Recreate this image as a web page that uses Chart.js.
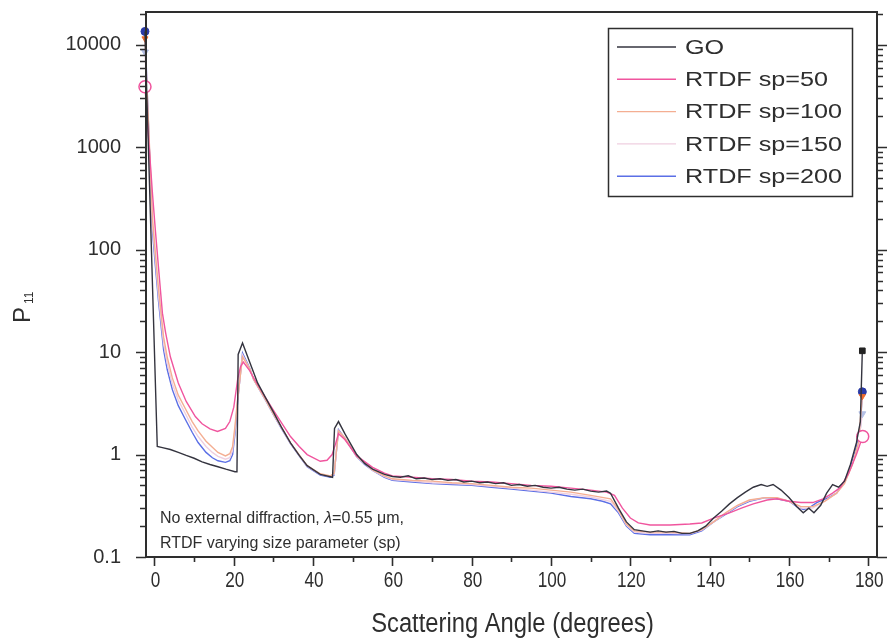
<!DOCTYPE html>
<html>
<head>
<meta charset="utf-8">
<script src="https://cdn.jsdelivr.net/npm/chart.js@4.4.1/dist/chart.umd.min.js"></script>
<style>
  html, body { margin: 0; padding: 0; background: #fff; }
  #wrap { width: 889px; height: 642px; position: relative; }
</style>
</head>
<body>
<div id="wrap"><canvas id="c"></canvas></div>
<script>
// ---------------- data ----------------
const xTicks = [0, 20, 40, 60, 80, 100, 120, 140, 160, 180];
const yTicks = [0.1, 1, 10, 100, 1000, 10000];

const seriesLabels = ["GO", "RTDF sp=50", "RTDF sp=100", "RTDF sp=150", "RTDF sp=200"];

const goAng = [-2.4, 0.7, 2, 4, 6, 8, 10, 12, 14, 16, 18, 20.3, 20.8, 21.1, 22.2, 24, 26, 28, 30, 32, 34.3, 36.5, 38.5, 41.8, 44.9, 45.4, 46.4, 48, 51, 53, 55, 58, 60, 62, 64, 66, 68, 70, 72, 74, 76, 78, 80, 82, 84, 86, 88, 90, 92, 94, 96, 98, 100, 102, 104, 106, 108, 110, 112, 114, 115, 117, 119, 121, 123, 125, 127, 129, 131, 133, 135, 137, 139, 141, 143, 145, 147, 149, 151, 153, 154.5, 156, 158, 160, 162, 163.6, 165, 166.3, 168, 169.5, 171, 172.5, 174, 175.5, 177, 178, 178.5];
const goVal = [13500, 1.2, 1.17, 1.12, 1.05, 0.98, 0.92, 0.85, 0.8, 0.76, 0.72, 0.68, 0.68, 9.5, 12.3, 8, 5, 3.6, 2.6, 1.85, 1.3, 0.98, 0.78, 0.64, 0.6, 1.8, 2.1, 1.6, 1.0, 0.82, 0.72, 0.64, 0.61, 0.6, 0.62, 0.58, 0.59, 0.57, 0.58, 0.56, 0.57, 0.54, 0.55, 0.53, 0.54, 0.52, 0.53, 0.5, 0.51, 0.49, 0.5, 0.48, 0.47, 0.48, 0.46, 0.45, 0.46, 0.44, 0.43, 0.44, 0.42, 0.3, 0.22, 0.185, 0.18, 0.175, 0.18, 0.175, 0.178, 0.17, 0.17, 0.18, 0.2, 0.24, 0.28, 0.33, 0.38, 0.43, 0.48, 0.51, 0.49, 0.51, 0.45, 0.38, 0.31, 0.27, 0.3, 0.27, 0.32, 0.42, 0.51, 0.48, 0.55, 0.8, 1.3, 2.1, 10.3];

const sp50Ang = [-2.4, -0.5, 0.25, 1, 2, 2.8, 4, 6, 8, 10.3, 12, 14, 15.9, 17.9, 19, 20, 21, 21.7, 22.4, 24, 25, 28, 30, 32, 34.3, 36.5, 38.5, 41.8, 43.5, 44.8, 45.6, 46.4, 48, 51, 55, 58, 60, 65, 70, 75, 80, 85, 90, 95, 100, 105, 110, 114, 116, 118, 120, 122, 125, 130, 135, 138, 141, 145, 148, 151, 154.5, 157, 160, 163, 166, 168.6, 171, 173, 175, 177, 178.6];
const sp50Val = [3900, 350, 150, 68, 24, 15.5, 9, 5, 3.3, 2.35, 2.0, 1.78, 1.68, 1.8, 2.1, 2.9, 5.5, 7.2, 8.0, 6.6, 5.6, 3.6, 2.7, 2.05, 1.5, 1.2, 1.0, 0.86, 0.88, 1.0, 1.25, 1.6, 1.4, 0.97, 0.75, 0.66, 0.62, 0.6, 0.58, 0.57, 0.55, 0.54, 0.52, 0.5, 0.49, 0.47, 0.45, 0.43, 0.4, 0.3, 0.24, 0.215, 0.205, 0.205, 0.21, 0.215, 0.24, 0.27, 0.3, 0.33, 0.36, 0.37, 0.35, 0.34, 0.34, 0.37, 0.42, 0.48, 0.65, 1.0, 1.5];

const sp100Ang = [-2.4, -0.5, 0.25, 1, 2.3, 3.2, 4.5, 6, 7.8, 9.5, 11, 13, 14.6, 16, 17.9, 19, 19.7, 20.3, 21, 22.2, 24, 25, 28, 30, 32, 34.3, 36.5, 38.5, 41.8, 44.4, 45.3, 46.4, 48, 51, 55, 58, 60, 65, 70, 75, 80, 85, 90, 95, 100, 105, 110, 115, 117, 119, 121, 125, 130, 135, 138, 141, 144, 147, 150, 154, 157, 160, 163, 166, 169, 172, 174, 176, 177.5, 178.5];
const sp100Val = [11500, 200, 90, 42, 14, 9, 5.6, 3.8, 2.8, 2.1, 1.7, 1.35, 1.18, 1.05, 0.97, 1.02, 1.2, 1.9, 3.6, 9.0, 6.9, 5.4, 3.45, 2.5, 1.85, 1.3, 0.99, 0.78, 0.65, 0.62, 0.66, 1.7, 1.45, 0.96, 0.71, 0.62, 0.58, 0.56, 0.55, 0.53, 0.52, 0.5, 0.48, 0.47, 0.45, 0.43, 0.4, 0.37, 0.29, 0.21, 0.18, 0.175, 0.175, 0.17, 0.185, 0.22, 0.27, 0.32, 0.36, 0.38, 0.38, 0.35, 0.31, 0.31, 0.35, 0.42, 0.52, 0.8, 1.3, 3.7];

const sp150Ang = [-2.4, -0.5, 0.25, 1, 2.3, 3.2, 4.5, 6, 7.8, 9.5, 11, 13, 14.6, 16, 17.9, 19, 19.7, 20.3, 21, 22.2, 24, 25, 28, 30, 32, 34.3, 36.5, 38.5, 41.8, 44.4, 45.3, 46.4, 48, 51, 55, 58, 60, 65, 70, 75, 80, 85, 90, 95, 100, 105, 110, 115, 117, 119, 121, 125, 130, 135, 138, 141, 144, 147, 150, 154, 157, 160, 163, 166, 169, 172, 174, 176, 177.5, 178.5];
const sp150Val = [8500, 170, 78, 36, 12, 7.8, 4.9, 3.4, 2.5, 1.85, 1.5, 1.2, 1.05, 0.96, 0.9, 0.93, 1.1, 1.75, 3.5, 9.4, 6.9, 5.4, 3.4, 2.47, 1.82, 1.29, 0.98, 0.77, 0.64, 0.61, 0.64, 1.72, 1.45, 0.95, 0.7, 0.61, 0.57, 0.55, 0.53, 0.52, 0.51, 0.49, 0.47, 0.45, 0.43, 0.41, 0.385, 0.35, 0.28, 0.205, 0.175, 0.17, 0.17, 0.168, 0.183, 0.22, 0.265, 0.315, 0.355, 0.38, 0.375, 0.35, 0.3, 0.3, 0.35, 0.42, 0.53, 0.8, 1.25, 2.5];

const sp200Ang = [-2.4, -0.5, 0.25, 1, 2.3, 3.2, 4.5, 6, 7.8, 9.5, 11, 13, 14.6, 16, 17.9, 19, 19.7, 20.3, 21, 22.2, 24, 25, 28, 30, 32, 34.3, 36.5, 38.5, 41.8, 44.4, 45.3, 46.4, 48, 51, 53, 55, 58, 60, 65, 70, 75, 80, 85, 90, 95, 100, 105, 110, 113, 115, 117, 119, 121, 125, 130, 135, 138, 141, 144, 147, 150, 154, 157, 160, 162, 163.6, 165, 167, 170, 172, 174, 175.5, 177, 178, 178.5];
const sp200Val = [13500, 150, 68, 32, 10.5, 6.8, 4.3, 3.0, 2.2, 1.65, 1.31, 1.05, 0.93, 0.87, 0.84, 0.87, 1.0, 1.6, 3.4, 9.8, 7.0, 5.4, 3.4, 2.45, 1.8, 1.28, 0.97, 0.76, 0.63, 0.6, 0.63, 1.75, 1.45, 0.95, 0.8, 0.7, 0.6, 0.56, 0.54, 0.52, 0.51, 0.5, 0.48, 0.46, 0.44, 0.42, 0.39, 0.37, 0.35, 0.33, 0.27, 0.2, 0.17, 0.165, 0.165, 0.165, 0.18, 0.22, 0.26, 0.31, 0.35, 0.38, 0.37, 0.35, 0.31, 0.29, 0.3, 0.34, 0.38, 0.42, 0.55, 0.75, 1.2, 1.8, 4.1];

// ---------------- helpers ----------------
const pts = (a, v) => a.map((x, i) => ({ x, y: v[i] }));
const ends = (r, firstToo) => c => {
  const last = c.dataset.data.length - 1;
  if (c.dataIndex === last) return r;
  if (firstToo && c.dataIndex === 0) return r;
  return 0;
};
const INK = "#2e2e2e";
const SANS = "'Liberation Sans', Arial, sans-serif";

function lineSet(label, a, v, color, mk) {
  return {
    label, data: pts(a, v),
    borderColor: color, borderWidth: 1.4, tension: 0, clip: false,
    pointStyle: mk.style, pointRotation: mk.rot || 0,
    pointRadius: ends(mk.r, mk.first), pointHoverRadius: 0,
    pointBackgroundColor: mk.fill, pointBorderColor: mk.stroke, pointBorderWidth: mk.bw || 1
  };
}

// squeezed text (the x labels in the figure are set in a narrow face)
function squeezed(ctx, s, x, y, sx, font, align) {
  ctx.save();
  ctx.font = font;
  ctx.translate(x, y);
  ctx.scale(sx, 1);
  ctx.textAlign = align || "center";
  ctx.fillText(s, 0, 0);
  ctx.restore();
}

// ---------------- drawing extras ----------------
const frame = {
  id: "frame",
  afterDraw(chart) {
    const { ctx, chartArea: a, scales: { x, y } } = chart;
    ctx.save();
    ctx.strokeStyle = INK;
    ctx.lineWidth = 2;
    ctx.strokeRect(a.left, a.top, a.right - a.left, a.bottom - a.top);

    // x ticks (bottom, outward)
    ctx.lineWidth = 1.6;
    ctx.beginPath();
    for (let d = 0; d <= 180; d += 10) {
      const px = Math.round(x.getPixelForValue(d)) + 0.5;
      ctx.moveTo(px, a.bottom);
      ctx.lineTo(px, a.bottom + (d % 20 === 0 ? 9 : 5));
    }
    // y ticks (left and right, outward)
    for (let k = -1; k <= 4; k++) {
      for (let m = 1; m <= 9; m++) {
        const val = m * Math.pow(10, k);
        if (val > y.max) break;
        const py = Math.round(y.getPixelForValue(val)) + 0.5;
        const len = m === 1 ? 10 : 6;
        ctx.moveTo(a.left, py); ctx.lineTo(a.left - len, py);
        ctx.moveTo(a.right, py); ctx.lineTo(a.right + len, py);
      }
    }
    ctx.stroke();

    // x tick labels + axis titles
    ctx.fillStyle = INK;
    ctx.textBaseline = "alphabetic";
    xTicks.forEach(v => squeezed(ctx, String(v), x.getPixelForValue(v) + 1, 587, 0.78, "22px " + SANS));
    squeezed(ctx, "Scattering Angle (degrees)", (a.left + a.right) / 2 + 1, 632, 0.88, "27px " + SANS);

    ctx.save();
    ctx.translate(30, 323);
    ctx.rotate(-Math.PI / 2);
    ctx.textAlign = "left";
    ctx.font = "24px " + SANS;
    ctx.fillText("P", 0, 0);
    ctx.font = "12px " + SANS;
    ctx.fillText("11", 19, 3);
    ctx.restore();

    // note
    ctx.textAlign = "left";
    let tx = 160;
    const parts = [["No external diffraction, ", "16px " + SANS], ["\u03bb", "italic 16px " + SANS], ["=0.55 \u03bcm,", "16px " + SANS]];
    parts.forEach(([s, f]) => { ctx.font = f; ctx.fillText(s, tx, 523); tx += ctx.measureText(s).width; });
    ctx.font = "16px " + SANS;
    ctx.fillText("RTDF varying size parameter (sp)", 160, 548);

    // legend box
    ctx.lineWidth = 1.5;
    ctx.strokeRect(608.5, 28.5, 244, 168);
    chart.data.datasets.forEach((ds, i) => {
      const ly = 47 + i * 32.3;
      ctx.strokeStyle = ds.borderColor;
      ctx.lineWidth = 1.4;
      ctx.beginPath(); ctx.moveTo(617, ly); ctx.lineTo(676, ly); ctx.stroke();
      ctx.save();
      ctx.translate(685, ly);
      ctx.scale(1.26, 1.05);
      ctx.font = "20px " + SANS;
      ctx.textBaseline = "middle";
      ctx.fillStyle = INK;
      ctx.fillText(ds.label, 0, 1);
      ctx.restore();
    });
    ctx.restore();
  }
};

new Chart(document.getElementById("c"), {
  type: "line",
  data: {
    datasets: [
      lineSet(seriesLabels[0], goAng, goVal, "#34343f", { style: "rect", r: 4, fill: "#222", stroke: "#222" }),
      lineSet(seriesLabels[1], sp50Ang, sp50Val, "#f0559e", { style: "circle", r: 6, first: true, fill: "#fff", stroke: "#f0559e", bw: 1.5 }),
      lineSet(seriesLabels[2], sp100Ang, sp100Val, "#f4ae92", { style: "triangle", rot: 180, r: 3.5, first: true, fill: "#ee6a2a", stroke: "#ee6a2a" }),
      lineSet(seriesLabels[3], sp150Ang, sp150Val, "#efcfe0", { style: "triangle", rot: 180, r: 4, first: true, fill: "#b4c0e6", stroke: "#b4c0e6" }),
      lineSet(seriesLabels[4], sp200Ang, sp200Val, "#5b6fe6", { style: "circle", r: 4, first: true, fill: "#2a3aa6", stroke: "#2a3aa6" })
    ]
  },
  options: {
    responsive: true,
    maintainAspectRatio: false,
    animation: false,
    events: [],
    layout: { padding: { left: 0, top: 12, right: 12, bottom: 0 } },
    plugins: { legend: { display: false }, tooltip: { enabled: false } },
    scales: {
      x: {
        type: "linear", min: -2.14, max: 182.2,
        grid: { display: false }, border: { display: false },
        afterBuildTicks: s => { s.ticks = xTicks.map(v => ({ value: v })); },
        afterFit: s => { s.height = 85; s.paddingLeft = 0; s.paddingRight = 0; },
        ticks: { display: false }
      },
      y: {
        type: "logarithmic", min: 0.1, max: 20900,
        grid: { display: false }, border: { display: false },
        afterBuildTicks: s => { s.ticks = yTicks.map(v => ({ value: v })); },
        afterFit: s => { s.width = 146; s.paddingTop = 0; s.paddingBottom = 0; },
        ticks: { padding: 17, color: INK, font: { family: SANS, size: 20 }, callback: v => String(v) }
      }
    }
  },
  plugins: [frame]
});
</script>
</body>
</html>
